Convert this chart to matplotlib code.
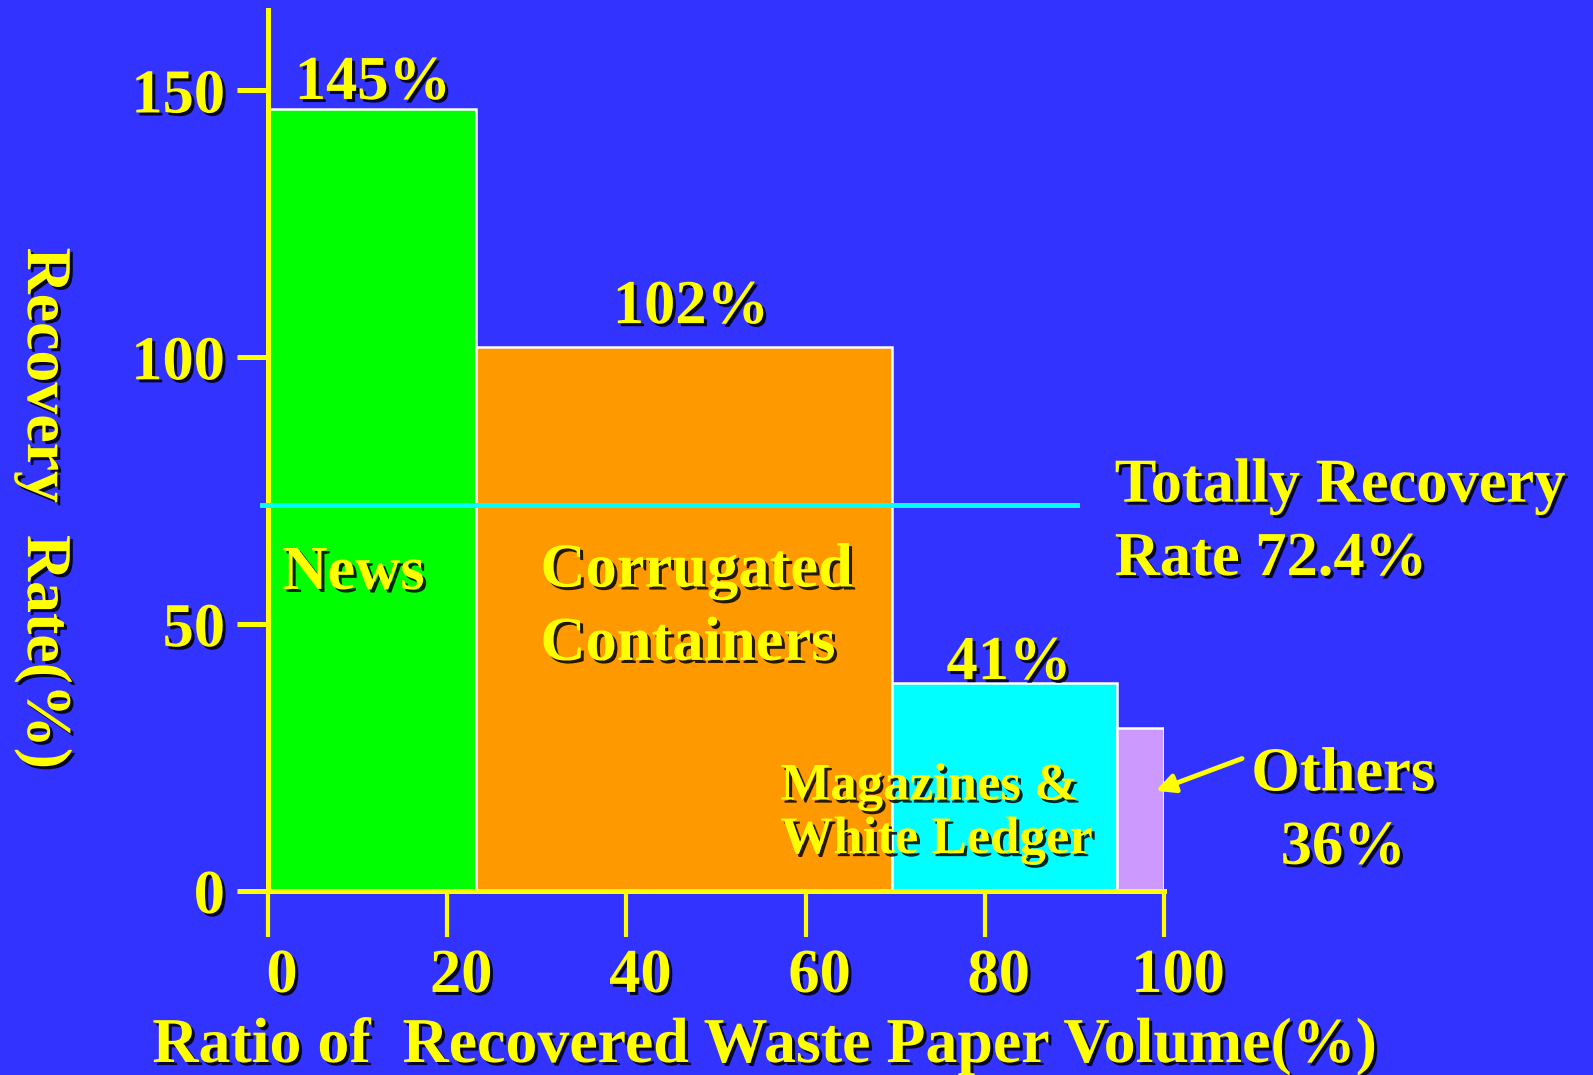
import numpy as np
import matplotlib
matplotlib.use("Agg")
import matplotlib.pyplot as plt
import matplotlib.patheffects as pe
from matplotlib.transforms import ScaledTranslation

# data
categories = ["News", "Corrugated\nContainers", "Magazines &\nWhite Ledger", "Others"]
volume_share = [23.2, 46.4, 25.1, 5.3]          # ratio of recovered volume (%), bar widths
recovery_rate = [146.5, 102.0, 39.0, 30.5]      # bar heights as drawn
rate_labels = ["145%", "102%", "41%", "36%"]
total_rate = 72.4
xticks = [0, 20, 40, 60, 80, 100]
yticks = [0, 50, 100, 150]

BG = "#3333FF"
YEL = "#FFFF00"
colors = ["#00FF00", "#FF9900", "#00FFFF", "#CC99FF"]

plt.rcParams["font.family"] = ["Liberation Serif", "DejaVu Serif"]
plt.rcParams["font.weight"] = "bold"

shadow = [pe.SimplePatchShadow(offset=(2.2, -2.2), shadow_rgbFace="black", alpha=0.85), pe.Normal()]

fig = plt.figure(figsize=(15.93, 10.75), dpi=100, facecolor=BG)
ax = fig.add_axes([268 / 1593, 184 / 1075, 896 / 1593, 880.6 / 1075])
ax.set_facecolor("none")

lefts = np.concatenate([[0], np.cumsum(volume_share)[:-1]])
ax.bar(lefts, recovery_rate, width=volume_share, align="edge", color=colors,
       edgecolor="white", linewidth=1.8, zorder=1)

ax.set_xlim(0, 100)
ax.set_ylim(0, 165)

for s in ["top", "right"]:
    ax.spines[s].set_visible(False)
for s in ["left", "bottom"]:
    ax.spines[s].set_color(YEL)
    ax.spines[s].set_linewidth(3.6)
    ax.spines[s].set_zorder(3)

ax.set_xticks(xticks)
ax.set_yticks(yticks)
ax.tick_params(axis="x", direction="out", length=33, width=3.0, color=YEL,
               labelcolor=YEL, labelsize=45, pad=8)
ax.tick_params(axis="y", direction="out", length=22, width=3.6, color=YEL,
               labelcolor=YEL, labelsize=45, pad=9)
off = ScaledTranslation(14 / 100, 0, fig.dpi_scale_trans)
for lab in ax.get_xticklabels():
    lab.set_transform(lab.get_transform() + off)
    lab.set_fontweight("bold")
    lab.set_path_effects(shadow)
for lab in ax.get_yticklabels():
    lab.set_fontweight("bold")
    lab.set_path_effects(shadow)

# total recovery line
ax.plot([-0.7, 90.3], [total_rate, total_rate], color="#00FFFF", lw=3.6,
        clip_on=False, zorder=4)


def label(x, y, s, size=45, ha="left", **kw):
    ax.text(x, y, s, color=YEL, fontsize=size, fontweight="bold", ha=ha,
            va="baseline", path_effects=shadow, clip_on=False, zorder=5, **kw)


# percentage labels above bars
label(11.7, 148.4, rate_labels[0], ha="center")
label(47.2, 106.4, rate_labels[1], ha="center")
label(82.7, 39.7, rate_labels[2], ha="center")

# category names
label(1.6, 56.6, categories[0])
label(30.4, 43.3, categories[1], linespacing=1.35)
label(57.2, 7.1, categories[2], size=38, linespacing=1.15)
label(120.0, 5.1, categories[3] + "\n" + rate_labels[3], ha="center", linespacing=1.35)
label(94.5, 59.2, "Totally Recovery\nRate %.1f%%" % total_rate, linespacing=1.35)

ax.annotate("", xy=(98.8, 18.6), xytext=(109.0, 25.0), annotation_clip=False,
            arrowprops=dict(arrowstyle="-|>", color=YEL, lw=3.5, mutation_scale=28))

fig.text(43 / 1593, 1 - 508 / 1075, "Recovery  Rate(%)", rotation=270, color=YEL,
         fontsize=46, fontweight="bold", ha="center", va="center", path_effects=shadow)
fig.text(764 / 1593, 1 - 1062 / 1075, "Ratio of  Recovered Waste Paper Volume(%)",
         color=YEL, fontsize=46, fontweight="bold", ha="center", va="baseline",
         path_effects=shadow)

fig.savefig("out.png", dpi=100, facecolor=BG)
